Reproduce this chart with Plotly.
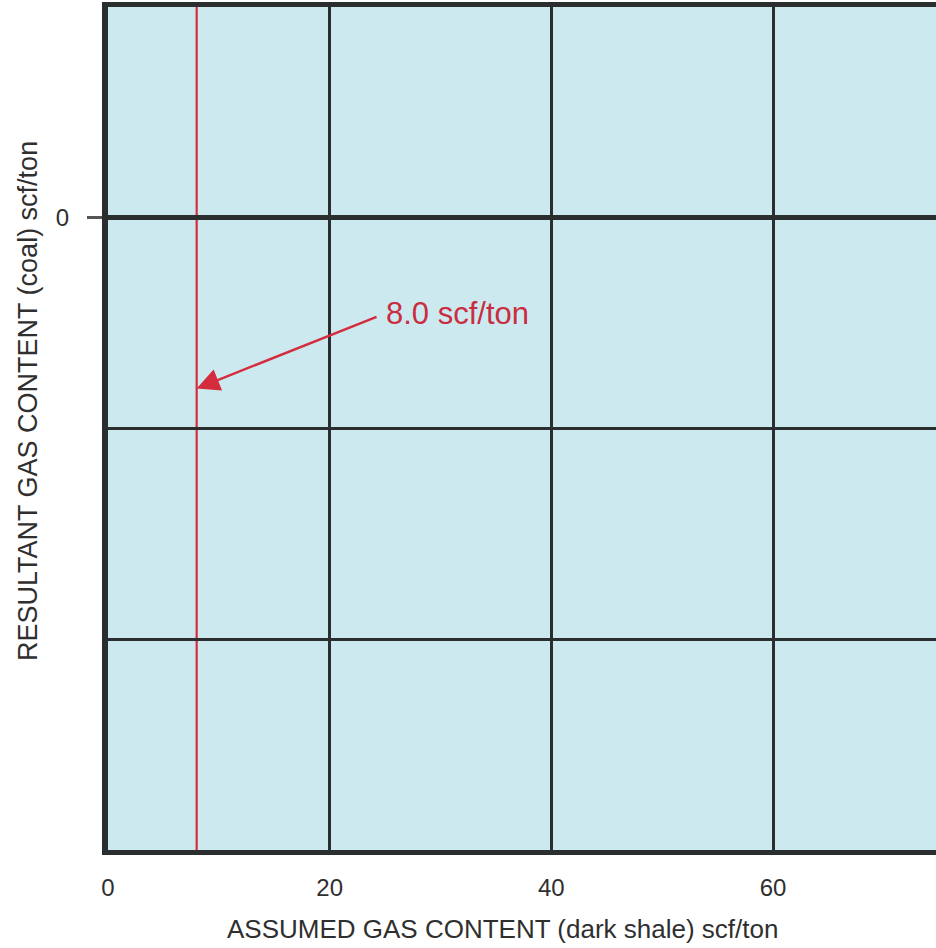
import plotly.graph_objects as go

# Axis ticks and the reference gas content
x_ticks = [0, 20, 40, 60]
x_tick_labels = ["0", "20", "40", "60"]
y_major_ticks = [0]
y_major_labels = ["0"]
y_minor_ticks = [-2, -1]
x_limits = [0, 74.7]
y_limits = [-3, 1]

threshold = 8.0            # scf/ton, assumed gas content for dark shale
arrow_tip_y = -0.81
label_pos = (24.9, -0.456)

x_title = "ASSUMED GAS CONTENT (dark shale) scf/ton"
y_title = "RESULTANT GAS CONTENT (coal) scf/ton"

ink = "#2b2e2e"
red = "#d42b3d"
label_red = "#c92e40"
text_grey = "#2f2f2f"
font_family = "Liberation Sans, Arial, sans-serif"

fig = go.Figure()

# invisible trace so the axes are built
fig.add_trace(go.Scatter(x=[x_limits[0]], y=[y_limits[0]], mode="markers",
                         marker=dict(opacity=0), hoverinfo="skip", showlegend=False))

# vertical line at the assumed gas content
fig.add_shape(type="line", x0=threshold, x1=threshold, y0=y_limits[0], y1=y_limits[1],
              xref="x", yref="y", layer="below",
              line=dict(color=red, width=2.2))

fig.add_annotation(
    x=threshold, y=arrow_tip_y, xref="x", yref="y",
    ax=label_pos[0], ay=label_pos[1], axref="x", ayref="y",
    text=f"{threshold:.1f} scf/ton", xanchor="left", yanchor="middle",
    font=dict(family=font_family, size=31, color=label_red),
    showarrow=True, arrowhead=2, arrowsize=1.9, arrowwidth=2.4, arrowcolor=red,
    standoff=0, startstandoff=8,
)

# axis titles
fig.add_annotation(
    x=-0.0975, y=0.533, xref="paper", yref="paper",
    text=y_title, textangle=-90, showarrow=False,
    xanchor="center", yanchor="middle",
    font=dict(family=font_family, size=27, color=text_grey),
)
fig.add_annotation(
    x=0.476, y=-0.1139, xref="paper", yref="paper",
    text=x_title, showarrow=False,
    xanchor="center", yanchor="bottom",
    font=dict(family=font_family, size=26, color=text_grey),
)

fig.update_xaxes(
    range=x_limits, tickmode="array", tickvals=x_ticks, ticktext=x_tick_labels,
    showgrid=True, gridcolor=ink, gridwidth=2.5, zeroline=False,
    showline=True, linecolor=ink, linewidth=5, mirror=True,
    ticks="outside", ticklen=12, tickcolor="rgba(0,0,0,0)",
    tickfont=dict(family=font_family, size=24, color=text_grey),
)

fig.update_yaxes(
    range=y_limits, tickmode="array", tickvals=y_major_ticks, ticktext=y_major_labels,
    showgrid=False, zeroline=True, zerolinecolor=ink, zerolinewidth=4.5,
    showline=True, linecolor=ink, linewidth=6, mirror=False,
    ticks="outside", ticklen=15, tickwidth=2.5, tickcolor="#555555",
    tickfont=dict(family=font_family, size=24, color=text_grey),
    ticklabelstandoff=13,
    minor=dict(tickmode="array", tickvals=y_minor_ticks, showgrid=True,
               gridcolor=ink, gridwidth=2.8, ticks=""),
)

fig.update_layout(
    width=936, height=948,
    margin=dict(l=108, r=0, t=7, b=98),
    paper_bgcolor="white", plot_bgcolor="#cde9f0",
    showlegend=False,
)

fig.write_html("out.html")
